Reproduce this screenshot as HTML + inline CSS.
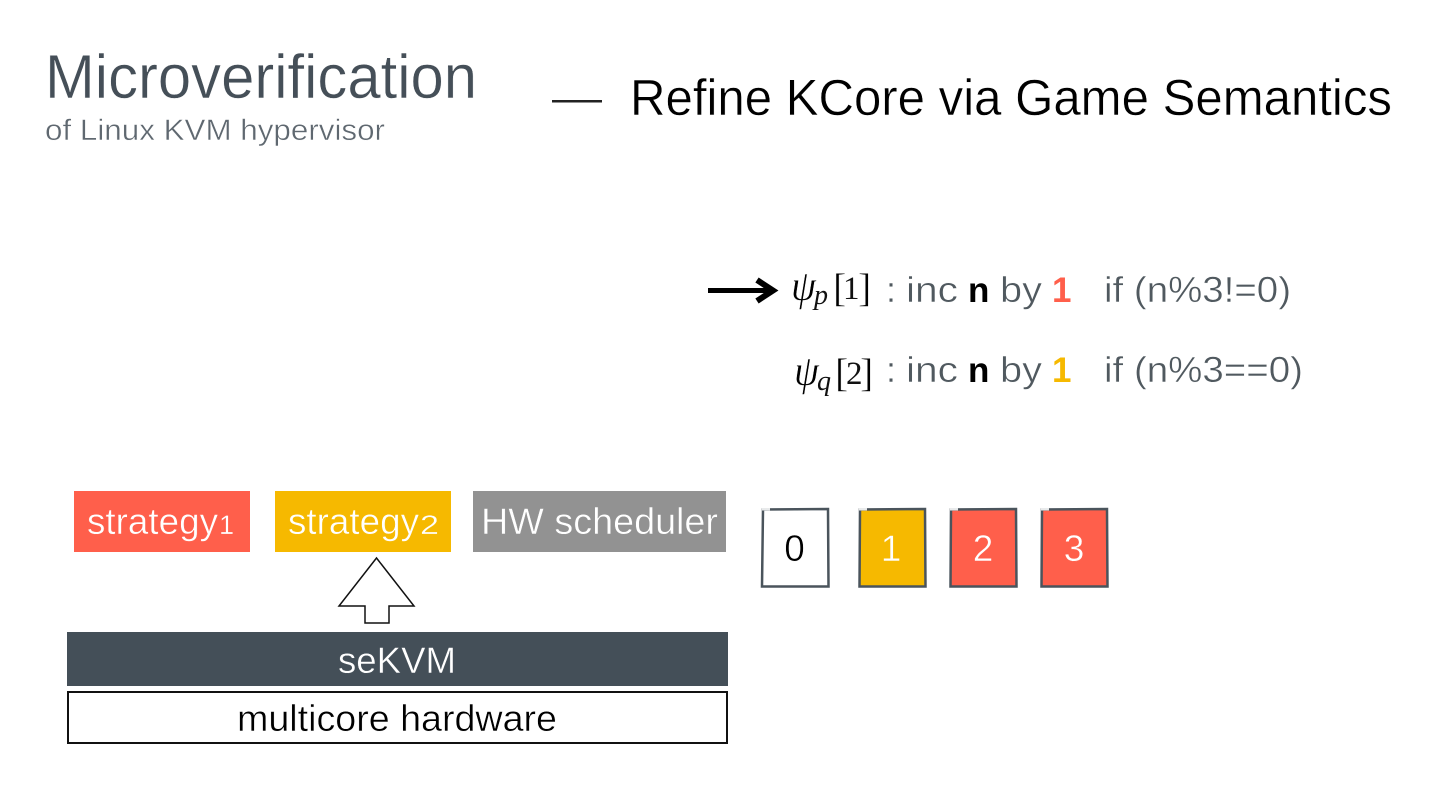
<!DOCTYPE html>
<html><head><meta charset="utf-8"><style>
html,body{margin:0;padding:0;background:#fff}
svg{display:block}
text{font-family:"Liberation Sans",sans-serif}
.m{font-family:"Liberation Serif",serif}
.t{stroke:#fff;stroke-width:.45px}
</style></head><body>
<svg width="1440" height="810" viewBox="0 0 1440 810" xmlns="http://www.w3.org/2000/svg">
<rect width="1440" height="810" fill="#fff"/>
<text class="t" x="45" y="98" font-size="62" fill="#454f58" textLength="432" lengthAdjust="spacingAndGlyphs">Microverification</text>
<text class="t" x="45" y="140" font-size="30" fill="#5f6870" textLength="340" lengthAdjust="spacingAndGlyphs">of Linux KVM hypervisor</text>
<rect x="552" y="100" width="50" height="2.500" fill="#222"/>
<text class="t" x="630" y="115" font-size="51" fill="#000" textLength="762" lengthAdjust="spacingAndGlyphs">Refine KCore via Game Semantics</text>

<line x1="708" y1="290.500" x2="771" y2="290.500" stroke="#000" stroke-width="5"/>
<polyline points="757,280 773,290.500 757,301" fill="none" stroke="#000" stroke-width="6"/>

<text class="m t" x="791" y="300" font-size="43" font-style="italic" fill="#000" textLength="25" lengthAdjust="spacingAndGlyphs">ψ</text>
<text class="m" x="814" y="304" font-size="28" font-style="italic" fill="#111">p</text>
<text class="m t" x="833" y="301" font-size="40" fill="#000">[</text>
<text class="m" x="843" y="299" font-size="33" fill="#111">1</text>
<text class="m t" x="858" y="301" font-size="40" fill="#000">]</text>
<g class="t" font-size="36" fill="#50595f">
<text x="886" y="302">:</text>
<text x="906" y="302" textLength="52" lengthAdjust="spacingAndGlyphs">inc</text>
<text x="1000" y="302" textLength="42" lengthAdjust="spacingAndGlyphs">by</text>
<text x="1104" y="302" textLength="187" lengthAdjust="spacingAndGlyphs">if (n%3!=0)</text>
</g>
<text x="968" y="302" font-size="35" font-weight="bold" fill="#000">n</text>
<text x="1052" y="302" font-size="35" font-weight="bold" fill="#ff5f4b">1</text>

<text class="m t" x="794" y="385" font-size="43" font-style="italic" fill="#000" textLength="25" lengthAdjust="spacingAndGlyphs">ψ</text>
<text class="m" x="817" y="390" font-size="28" font-style="italic" fill="#111">q</text>
<text class="m t" x="835" y="386" font-size="40" fill="#000">[</text>
<text class="m" x="846" y="384" font-size="33" fill="#111">2</text>
<text class="m t" x="860" y="386" font-size="40" fill="#000">]</text>
<g class="t" font-size="36" fill="#50595f">
<text x="886" y="382">:</text>
<text x="906" y="382" textLength="52" lengthAdjust="spacingAndGlyphs">inc</text>
<text x="1000" y="382" textLength="42" lengthAdjust="spacingAndGlyphs">by</text>
<text x="1104" y="382" textLength="199" lengthAdjust="spacingAndGlyphs">if (n%3==0)</text>
</g>
<text x="968" y="382" font-size="35" font-weight="bold" fill="#000">n</text>
<text x="1052" y="382" font-size="35" font-weight="bold" fill="#f6b900">1</text>

<rect x="74" y="491" width="176" height="61" fill="#ff5f4b"/>
<text x="87" y="534" font-size="37" fill="#fff" stroke="#ff5f4b" stroke-width=".45" textLength="131" lengthAdjust="spacingAndGlyphs">strategy</text>
<text x="219" y="534" font-size="27" fill="#fff" stroke="#ff5f4b" stroke-width=".3">1</text>
<rect x="275" y="491" width="176" height="61" fill="#f6b900"/>
<text x="288" y="534" font-size="37" fill="#fff" stroke="#f6b900" stroke-width=".45" textLength="131" lengthAdjust="spacingAndGlyphs">strategy</text>
<text x="420" y="534" font-size="27" fill="#fff" stroke="#f6b900" stroke-width=".3" textLength="19" lengthAdjust="spacingAndGlyphs">2</text>
<rect x="473" y="491" width="253" height="61" fill="#929292"/>
<text x="481" y="534" font-size="37" fill="#fff" stroke="#929292" stroke-width=".45" textLength="237" lengthAdjust="spacingAndGlyphs">HW scheduler</text>

<polygon points="376.500,558 414,606 389,606 389,623 365,623 365,606 339,606" fill="#fff" stroke="#111" stroke-width="1.500"/>

<rect x="67" y="632" width="661" height="54" fill="#444f58"/>
<text x="338" y="673" font-size="37" fill="#fff" stroke="#444f58" stroke-width=".4" textLength="118" lengthAdjust="spacingAndGlyphs">seKVM</text>
<rect x="68" y="692" width="659" height="51" fill="#fff" stroke="#111" stroke-width="2"/>
<text class="t" x="237" y="731" font-size="37" fill="#000" textLength="320" lengthAdjust="spacingAndGlyphs">multicore hardware</text>

<g stroke="#4a545c" stroke-width="2.500">
<polygon points="763,509.500 828,509 828.500,586.500 762,586.500" fill="#fff"/>
<polygon points="860,509.500 925,509 925.500,586.500 859.500,586.500" fill="#f6b900"/>
<polygon points="951,509.500 1016,509 1016.500,586.500 950.500,586.500" fill="#ff5f4b"/>
<polygon points="1042,509.500 1107,509 1107.500,586.500 1041.500,586.500" fill="#ff5f4b"/>
</g>
<g fill="#e8eaeb">
<rect x="762" y="508" width="8" height="2.500"/>
<rect x="859" y="508" width="8" height="2.500"/>
<rect x="950" y="508" width="8" height="2.500"/>
<rect x="1041" y="508" width="8" height="2.500"/>
</g>
<g font-size="37" text-anchor="middle">
<text x="794.500" y="561" fill="#000" stroke="#fff" stroke-width=".45">0</text>
<text x="891" y="561" fill="#fff" stroke="#f6b900" stroke-width=".45">1</text>
<text x="983" y="561" fill="#fff" stroke="#ff5f4b" stroke-width=".45">2</text>
<text x="1074" y="561" fill="#fff" stroke="#ff5f4b" stroke-width=".45">3</text>
</g>
</svg>
</body></html>
